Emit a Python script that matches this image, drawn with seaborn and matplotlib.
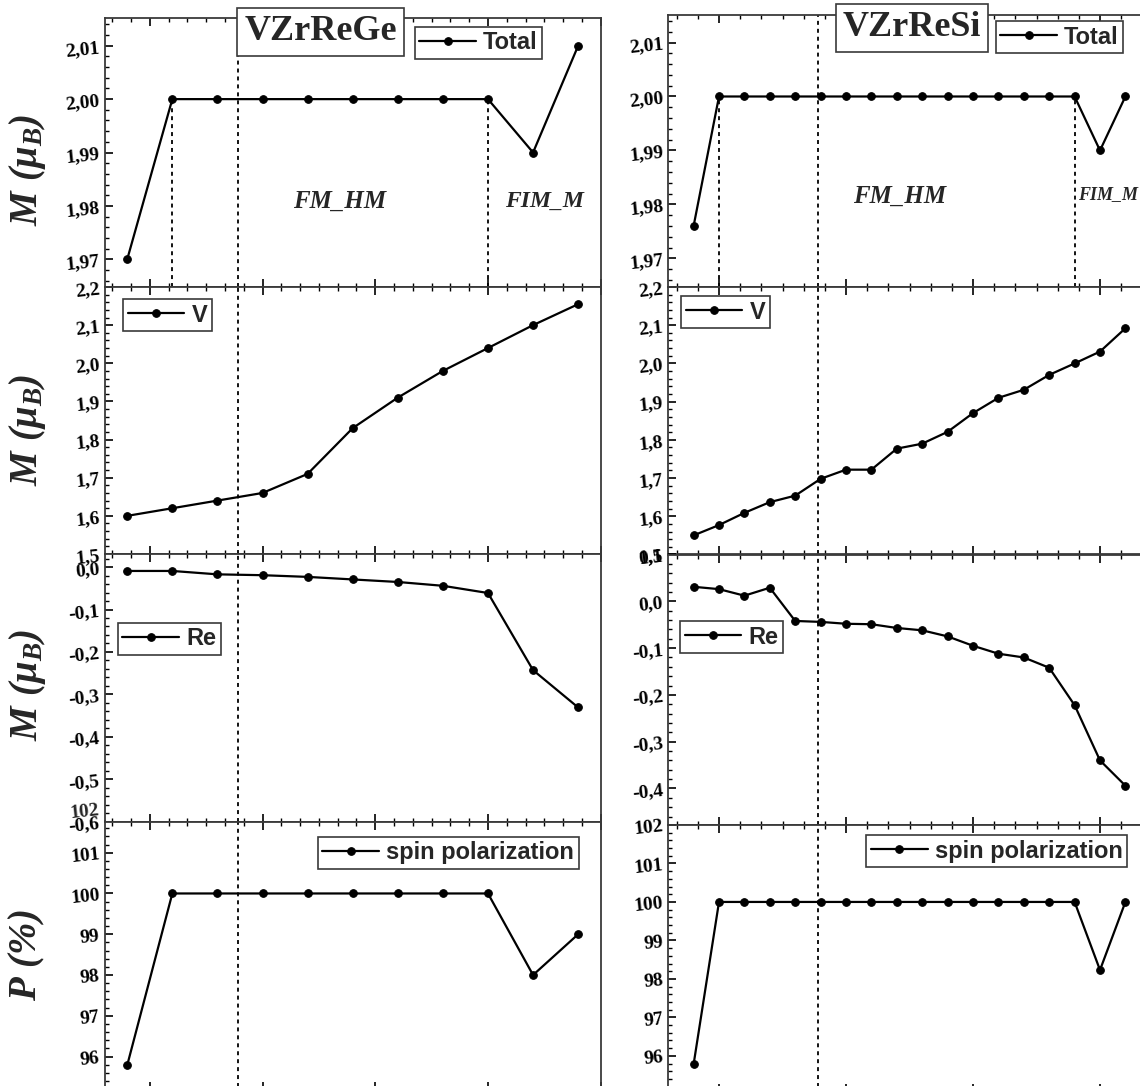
import matplotlib
matplotlib.use("Agg")
import matplotlib.pyplot as plt
import matplotlib.transforms as mtransforms
from matplotlib.ticker import MultipleLocator, FuncFormatter
import numpy as np
import pandas as pd
import seaborn as sns

# ---------------- data ----------------
x_ge = [5.9, 6.1, 6.3, 6.5, 6.7, 6.9, 7.1, 7.3, 7.5, 7.7, 7.9]
x_si = [5.9, 6.0, 6.1, 6.2, 6.3, 6.4, 6.5, 6.6, 6.7, 6.8, 6.9, 7.0, 7.1, 7.2, 7.3, 7.4, 7.5, 7.6]

total_ge = [1.97, 2.00, 2.00, 2.00, 2.00, 2.00, 2.00, 2.00, 2.00, 1.99, 2.01]
total_si = [1.976, 2.00, 2.00, 2.00, 2.00, 2.00, 2.00, 2.00, 2.00, 2.00, 2.00, 2.00,
            2.00, 2.00, 2.00, 2.00, 1.99, 2.00]

v_ge = [1.60, 1.62, 1.64, 1.66, 1.71, 1.83, 1.91, 1.98, 2.04, 2.10, 2.155]
v_si = [1.55, 1.577, 1.609, 1.637, 1.654, 1.698, 1.722, 1.722, 1.777, 1.79, 1.821,
        1.870, 1.910, 1.931, 1.970, 2.000, 2.031, 2.092]

re_ge = [-0.009, -0.009, -0.017, -0.019, -0.023, -0.029, -0.035, -0.044, -0.061, -0.243, -0.331]
re_si = [0.031, 0.026, 0.012, 0.029, -0.042, -0.044, -0.048, -0.049, -0.057, -0.062, -0.075,
         -0.095, -0.112, -0.120, -0.142, -0.222, -0.340, -0.394]

p_ge = [95.79, 100, 100, 100, 100, 100, 100, 100, 100, 98.0, 99.0]
p_si = [95.78, 100, 100, 100, 100, 100, 100, 100, 100, 100, 100, 100, 100, 100, 100, 100, 98.23, 100]

titles = ["VZrReGe", "VZrReSi"]
series_labels = ["Total", "V", "Re", "spin polarization"]
region_labels = ["FM_HM", "FIM_M"]
boundary_x = 6.39
partial_lines_ge = [(6.1, 2.00), (7.5, 2.00)]
partial_lines_si = [(6.0, 2.00), (7.4, 2.00)]

# ---------------- style ----------------
sns.set_style("ticks")
plt.rcParams["font.family"] = ["Liberation Serif", "DejaVu Serif"]
plt.rcParams["mathtext.fontset"] = "custom"
plt.rcParams["mathtext.it"] = "Liberation Serif:italic:bold"
plt.rcParams["mathtext.rm"] = "Liberation Serif:italic:bold"
plt.rcParams["mathtext.bf"] = "Liberation Serif:italic:bold"
plt.rcParams["mathtext.bfit"] = "Liberation Serif:italic:bold"

W, H = 1140, 1086
fig = plt.figure(figsize=(W / 100, H / 100), dpi=100)


def fx(px):
    return px / W


def fy(py):
    return 1 - py / H


def add_ax(x0, x1, y0, y1):
    return fig.add_axes([fx(x0), fy(y1), fx(x1) - fx(x0), (y1 - y0) / H])


cols = {
    "ge": dict(xr=(104.7, 600.7), xlim=(5.8, 8.0),
               rows=[(18, 287), (287, 554), (554, 821.5), (821.5, 1090)],
               ylims=[(1.9648, 2.0152), (1.5, 2.2), (-0.6, 0.031), (95.18, 101.765)],
               x=x_ge, ys=[total_ge, v_ge, re_ge, p_ge],
               leg=[(414.5, 26.7), (123, 299), (117.5, 622.7), (317.5, 836.7)]),
    "si": dict(xr=(668.2, 1146), xlim=(5.8, 5.8 + (1146 - 668.2) / 254.0),
               rows=[(15, 287), (287, 554.5), (554.5, 825), (825, 1092)],
               ylims=[(1.9647, 2.0151), (1.5, 2.2), (-0.478, 0.1), (95.06, 102.0)],
               x=x_si, ys=[total_si, v_si, re_si, p_si],
               leg=[(995.5, 21), (681, 296), (680, 621), (866.4, 835)]),
}

majors = [0.01, 0.1, 0.1, 1.0]
minors = [0.002, 0.02, 0.02, 0.2]
fmts = ["%.2f", "%.1f", "%.1f", "%d"]

tick_font = dict(family="Liberation Serif", weight="bold", size=14)
spine_color = "#3a3a3a"

axes = {}
for key, c in cols.items():
    axes[key] = []
    for r in range(4):
        y0, y1 = c["rows"][r]
        ax = add_ax(c["xr"][0], c["xr"][1], y0, y1)
        df = pd.DataFrame({"x": c["x"], "y": c["ys"][r]})
        ax.axvline(boundary_x, color="black", lw=1.3, ls=(0, (2.2, 2.2)), zorder=1)
        sns.lineplot(data=df, x="x", y="y", ax=ax, color="black", lw=1.6,
                     marker="o", markersize=5.5, markeredgecolor="black",
                     label=series_labels[r], zorder=3, sort=False)
        ax.set_xlim(*c["xlim"])
        ax.set_ylim(*c["ylims"][r])
        ax.set_xlabel("")
        ax.set_ylabel("")
        ax.xaxis.set_major_locator(MultipleLocator(0.5))
        ax.xaxis.set_minor_locator(MultipleLocator(0.5 / 6))
        ax.yaxis.set_major_locator(MultipleLocator(majors[r]))
        ax.yaxis.set_minor_locator(MultipleLocator(minors[r]))
        f = fmts[r]
        ax.yaxis.set_major_formatter(FuncFormatter(
            lambda v, p, f=f: (f % (0.0 if abs(v) < 1e-9 else v)).replace(".", ",")))
        ax.tick_params(axis="both", which="both", direction="in", top=True, bottom=True,
                       left=True, right=False, labelbottom=False, colors="black")
        ax.tick_params(axis="both", which="major", length=5.5, width=1.2, pad=3)
        ax.tick_params(axis="both", which="minor", length=3, width=1.0)
        for lab in ax.get_yticklabels():
            lab.set_fontproperties(matplotlib.font_manager.FontProperties(**tick_font))
            lab.set_rotation(6)
        for s in ax.spines.values():
            s.set_color(spine_color)
            s.set_linewidth(1.3)
            s.set_visible(True)
        lx, ly = c["leg"][r]
        leg = ax.legend(loc="upper left", bbox_to_anchor=(fx(lx), fy(ly)),
                        bbox_transform=fig.transFigure, borderaxespad=0,
                        prop=dict(family="Liberation Sans", weight="bold", size=17),
                        frameon=True, fancybox=False, handlelength=2.4,
                        handletextpad=0.3, borderpad=0.2, numpoints=1)
        leg.get_frame().set_edgecolor(spine_color)
        leg.get_frame().set_linewidth(1.2)
        leg.get_frame().set_alpha(1)
        axes[key].append(ax)

# partial dotted lines in top panels
for key, lines in (("ge", partial_lines_ge), ("si", partial_lines_si)):
    ax = axes[key][0]
    for xv, ytop in lines:
        ax.vlines(xv, ax.get_ylim()[0], ytop, color="black", lw=1.3,
                  ls=(0, (2.2, 2.2)), zorder=1)

# extra "102" tick label above the left polarization panel
axp = axes["ge"][3]
trans = mtransforms.blended_transform_factory(axp.transAxes, axp.transData)
axp.text(-0.01, 102, "102", transform=trans, ha="right", va="center",
         rotation=6, clip_on=False, **tick_font)

# titles
box = dict(boxstyle="square,pad=0.2", fc="white", ec=spine_color, lw=1.2)
fig.text(fx(320.5), fy(32), titles[0], ha="center", va="center", fontsize=26,
         weight="bold", family="Liberation Serif", bbox=box, zorder=10)
fig.text(fx(912), fy(28), titles[1], ha="center", va="center", fontsize=26,
         weight="bold", family="Liberation Serif", bbox=box, zorder=10)

# region labels
rl = dict(family="Liberation Serif", weight="bold", style="italic")
fig.text(fx(340), fy(201.7), region_labels[0], ha="center", va="center", fontsize=18, **rl)
fig.text(fx(544), fy(201.7), region_labels[1], ha="center", va="center", fontsize=17, **rl)
fig.text(fx(900), fy(196.7), region_labels[0], ha="center", va="center", fontsize=18, **rl)
fig.text(fx(1078), fy(195), region_labels[1], ha="left", va="center", fontsize=13, **rl)

# y labels
ylab = r"$\mathbf{M\ (\mu_B)}$"
for yc in (170, 430, 685):
    fig.text(fx(27), fy(yc), ylab, rotation=90, ha="center", va="center", fontsize=28)
fig.text(fx(27), fy(955), r"$\mathbf{P\ (\%)}$", rotation=90, ha="center", va="center",
         fontsize=28)

fig.savefig("out.png", dpi=100)
